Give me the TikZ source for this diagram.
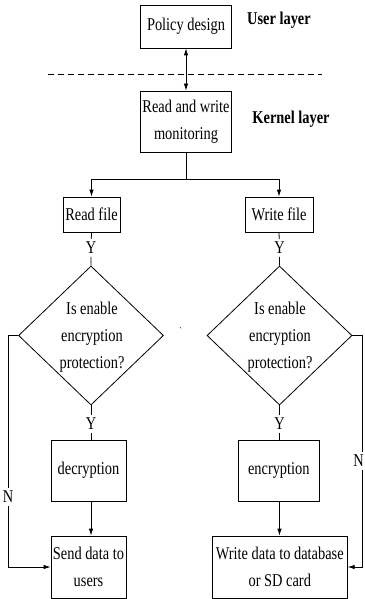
\documentclass[tikz,border=0pt]{standalone}
\usepackage{fontspec}
\setmainfont{Liberation Serif}[FakeStretch=0.8]
\usetikzlibrary{arrows.meta,shapes.geometric}
\begin{document}
\begin{tikzpicture}[x=1pt,y=-1pt,
  font=\fontsize{18}{27}\selectfont,
  line width=0.8pt,
  >={Latex[length=7pt,width=4.5pt]},
  box/.style={draw,inner sep=0pt,align=center},
  lay/.style={inner sep=0pt,font=\fontsize{18}{27}\selectfont\bfseries},
  lbl/.style={inner sep=2.5pt},
  dia/.style={draw,diamond,inner sep=0pt,minimum width=145pt,minimum height=139pt},
  divider/.style={dash pattern=on 6pt off 4pt}]
\useasboundingbox (0,0) rectangle (364,599);

\node[box,minimum width=91pt,minimum height=43pt] (pol) at (186,26.5) {Policy design};
\node[lay] (ul) at (279,20) {User layer};
\coordinate (dl) at (48,74);
\coordinate (dr) at (322,74);
\draw[divider] (dl) -- (dr);
\node[box,minimum width=91pt,minimum height=61pt] (rw) at (186,121.5) {Read and write\\monitoring};
\node[lay] (kl) at (291,119) {Kernel layer};
\draw[<->] (pol.south) -- (rw.north);

\node[box,minimum width=57pt,minimum height=35pt] (rf) at (91.5,214.5) {Read file};
\node[box,minimum width=68pt,minimum height=35pt] (wf) at (279,214.5) {Write file};
\coordinate (j) at (186,179);
\coordinate (jl) at (91.5,179);
\coordinate (jr) at (279,179);
\draw (rw.south) -- (j);
\draw[->] (j) -- (jl) -- (rf.north);
\draw[->] (j) -- (jr) -- (wf.north);

\node[dia] (d1) at (91,335.5) {};
\node[align=center,inner sep=0pt] (t1) at (92,337) {Is enable\\encryption\\protection?};
\node[dia] (d2) at (279.5,335.5) {};
\node[align=center,inner sep=0pt] (t2) at (280,337) {Is enable\\encryption\\protection?};
\node[inner sep=0pt,font=\fontsize{10}{12}\selectfont] (tk) at (181,331) {\textasciigrave};

\node[lbl] (y1) at (91,248) {Y};
\node[lbl] (y2) at (279.5,248) {Y};
\draw (rf.south) -- (y1) -- (d1.north);
\draw (wf.south) -- (y2) -- (d2.north);

\node[box,minimum width=75pt,minimum height=61pt] (dec) at (88.5,470.5) {decryption};
\node[box,minimum width=81pt,minimum height=61pt] (enc) at (278.8,470.5) {encryption};
\node[lbl] (y3) at (91,424) {Y};
\node[lbl] (y4) at (279.5,424) {Y};
\draw (d1.south) -- (y3) -- (y3 |- dec.north);
\draw (d2.south) -- (y4) -- (y4 |- enc.north);

\node[box,minimum width=75pt,minimum height=62pt] (sd) at (88.5,567) {Send data to\\users};
\node[box,minimum width=135pt,minimum height=62pt] (wd) at (279.8,567) {Write data to database\\or SD card};
\draw[->] (y3 |- dec.south) -- (y3 |- sd.north);
\draw[->] (y4 |- enc.south) -- (y4 |- wd.north);

\coordinate (l1) at (8,335.5);
\coordinate (l2) at (8,567);
\node[lbl] (n1) at (8,497) {N};
\draw (d1.west) -- (l1) -- (n1);
\draw[->] (n1) -- (l2) -- (sd.west);

\coordinate (r1) at (362,335.5);
\coordinate (r2) at (362,567);
\node[lbl] (n2) at (358.5,461) {N};
\draw (d2.east) -- (r1) -- (r1 |- n2.north);
\draw[->] (r1 |- n2.south) -- (r2) -- (wd.east);
\end{tikzpicture}
\end{document}
